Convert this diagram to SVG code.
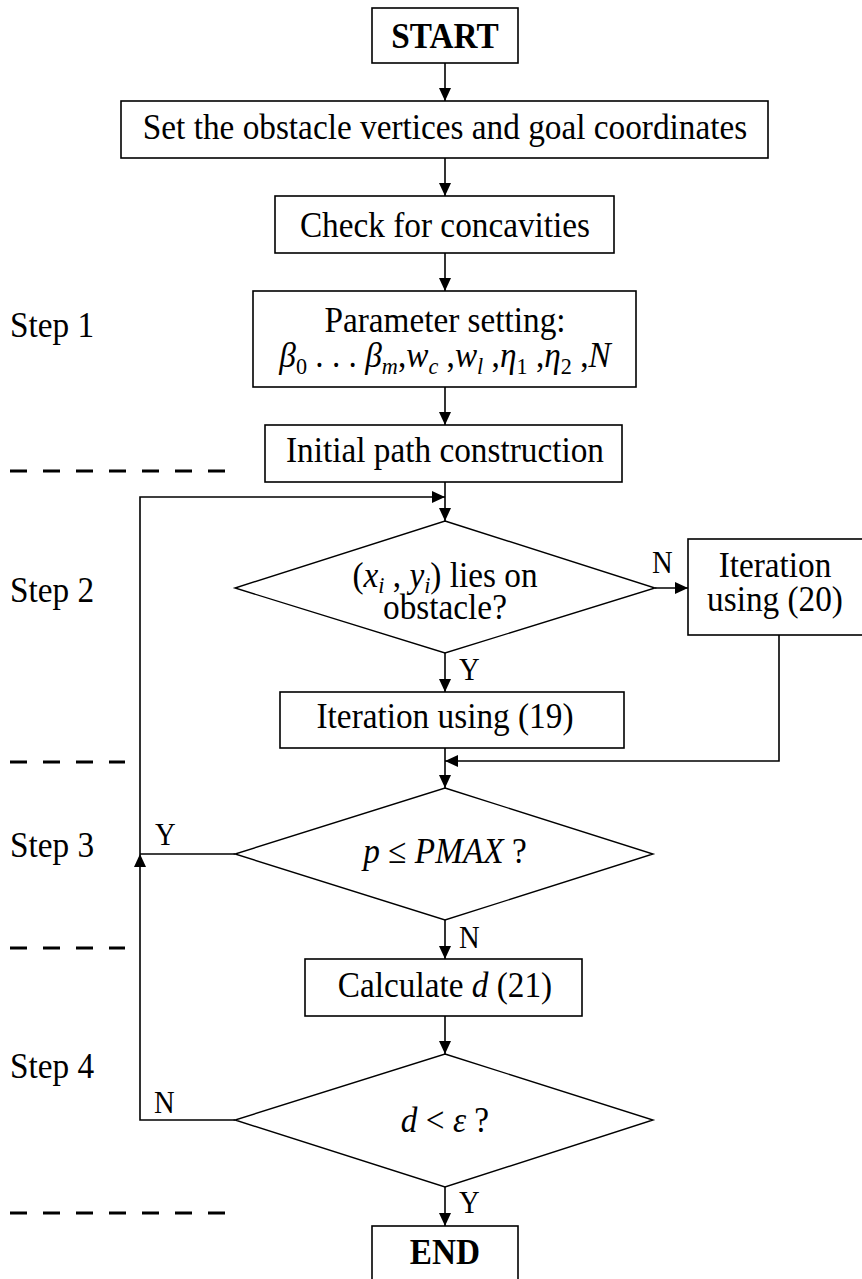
<svg xmlns="http://www.w3.org/2000/svg" width="862" height="1279" viewBox="0 0 862 1279" font-family="'Liberation Serif', Tinos, 'Times New Roman', Times, serif">
<defs>
<marker id="ah" markerUnits="userSpaceOnUse" markerWidth="14" markerHeight="12" refX="13" refY="6" orient="auto">
<path d="M0,0 L13,6 L0,12 Z" fill="#000"/>
</marker>
<style>
.box{fill:#fff;stroke:#000;stroke-width:1.6}
.dia{fill:#fff;stroke:#000;stroke-width:1.4}
text{font-family:'Liberation Serif', Tinos, 'Times New Roman', Times, serif;fill:#000}
.t{font-size:36px;text-anchor:middle}
.tb{font-size:36px;font-weight:bold;text-anchor:middle}
.st{font-size:36px}
.lab{font-size:31px}
.i{font-style:italic}
.sub{font-size:24px}
.c{fill:none;stroke:#000;stroke-width:1.6}
.dash{fill:none;stroke:#000;stroke-width:3;stroke-dasharray:17 16}
</style>
</defs>
<rect width="862" height="1279" fill="#fff"/>

<g id="steps">
<text class="st" x="10.81" y="337" transform="scale(0.925,1)">Step 1</text>
<text class="st" x="10.81" y="602" transform="scale(0.925,1)">Step 2</text>
<text class="st" x="10.81" y="857" transform="scale(0.925,1)">Step 3</text>
<text class="st" x="10.81" y="1078" transform="scale(0.925,1)">Step 4</text>
<line class="dash" x1="10" y1="471" x2="225" y2="471"/>
<line class="dash" x1="10" y1="762" x2="125" y2="762"/>
<line class="dash" x1="10" y1="948" x2="125" y2="948"/>
<line class="dash" x1="10" y1="1213" x2="225" y2="1213"/>
</g>

<g id="connectors">
<line class="c" x1="445" y1="63" x2="445" y2="101" marker-end="url(#ah)"/>
<line class="c" x1="445" y1="158" x2="445" y2="196" marker-end="url(#ah)"/>
<line class="c" x1="445" y1="253" x2="445" y2="291" marker-end="url(#ah)"/>
<line class="c" x1="445" y1="387" x2="445" y2="425" marker-end="url(#ah)"/>
<line class="c" x1="445" y1="482" x2="445" y2="521" marker-end="url(#ah)"/>
<line class="c" x1="655" y1="588" x2="688" y2="588" marker-end="url(#ah)"/>
<line class="c" x1="445" y1="653" x2="445" y2="692" marker-end="url(#ah)"/>
<polyline class="c" points="779,635 779,761 445,761" marker-end="url(#ah)"/>
<line class="c" x1="445" y1="748" x2="445" y2="788" marker-end="url(#ah)"/>
<line class="c" x1="445" y1="920" x2="445" y2="959" marker-end="url(#ah)"/>
<line class="c" x1="445" y1="1016" x2="445" y2="1054" marker-end="url(#ah)"/>
<line class="c" x1="445" y1="1187" x2="445" y2="1226" marker-end="url(#ah)"/>
<line class="c" x1="235" y1="854" x2="140" y2="854"/>
<polyline class="c" points="235,1120 140,1120 140,854" marker-end="url(#ah)"/>
<polyline class="c" points="140,854 140,497 445,497" stroke-width="2.4" marker-end="url(#ah)"/>
<text class="lab" x="704.86" y="573" transform="scale(0.925,1)">N</text>
<text class="lab" x="496.22" y="680" transform="scale(0.925,1)">Y</text>
<text class="lab" x="167.57" y="845" transform="scale(0.925,1)">Y</text>
<text class="lab" x="496.22" y="948" transform="scale(0.925,1)">N</text>
<text class="lab" x="166.49" y="1113" transform="scale(0.925,1)">N</text>
<text class="lab" x="496.22" y="1213" transform="scale(0.925,1)">Y</text>
</g>

<g id="start">
<rect class="box" x="372" y="8" width="146" height="55"/>
<text class="tb" x="481.08" y="48" transform="scale(0.925,1)">START</text>
</g>

<g id="set">
<rect class="box" x="121" y="101" width="647" height="57"/>
<text class="t" x="481.08" y="139" transform="scale(0.925,1)">Set the obstacle vertices and goal coordinates</text>
</g>

<g id="check">
<rect class="box" x="275" y="196" width="339" height="57"/>
<text class="t" x="481.08" y="237" transform="scale(0.925,1)">Check for concavities</text>
</g>

<g id="param">
<rect class="box" x="253" y="291" width="383" height="96"/>
<text class="t" x="481.08" y="332" transform="scale(0.925,1)">Parameter setting:</text>
<text class="t" x="481.08" y="367" transform="scale(0.925,1)"><tspan class="i">β</tspan><tspan class="sub" dy="7">0</tspan><tspan dy="-7"> . . . </tspan><tspan class="i">β</tspan><tspan class="i sub" dy="7">m</tspan><tspan dy="-7">,</tspan><tspan class="i">w</tspan><tspan class="i sub" dy="7">c</tspan><tspan dy="-7"> ,</tspan><tspan class="i">w</tspan><tspan class="i sub" dy="7">l</tspan><tspan dy="-7"> ,</tspan><tspan class="i">η</tspan><tspan class="sub" dy="7">1</tspan><tspan dy="-7"> ,</tspan><tspan class="i">η</tspan><tspan class="sub" dy="7">2</tspan><tspan dy="-7"> ,</tspan><tspan class="i">N</tspan></text>
</g>

<g id="init">
<rect class="box" x="265" y="425" width="357" height="57"/>
<text class="t" x="481.08" y="462" transform="scale(0.925,1)">Initial path construction</text>
</g>

<g id="dec1">
<polygon class="dia" points="445,521 655,588 445,653 235,588"/>
<text class="t" x="481.08" y="587" transform="scale(0.925,1)">(<tspan class="i">x</tspan><tspan class="i sub" dy="6">i</tspan><tspan dy="-6"> , </tspan><tspan class="i">y</tspan><tspan class="i sub" dy="6">i</tspan><tspan dy="-6">) lies on</tspan></text>
<text class="t" x="481.08" y="619" transform="scale(0.925,1)">obstacle?</text>
</g>

<g id="iter20">
<rect class="box" x="688" y="539" width="176" height="96"/>
<text class="t" x="837.84" y="577" transform="scale(0.925,1)">Iteration</text>
<text class="t" x="837.84" y="611" transform="scale(0.925,1)">using (20)</text>
</g>

<g id="iter19">
<rect class="box" x="280" y="692" width="344" height="56"/>
<text class="t" x="481.08" y="728" transform="scale(0.925,1)">Iteration using (19)</text>
</g>

<g id="dec2">
<polygon class="dia" points="445,788 653,854 445,920 235,854"/>
<text class="t" x="481.08" y="863" transform="scale(0.925,1)"><tspan class="i">p</tspan> ≤ <tspan class="i">PMAX</tspan> ?</text>
</g>

<g id="calc">
<rect class="box" x="305" y="959" width="277" height="57"/>
<text class="t" x="481.08" y="997" transform="scale(0.925,1)">Calculate <tspan class="i">d</tspan> (21)</text>
</g>

<g id="dec3">
<polygon class="dia" points="445,1054 653,1120 445,1187 235,1120"/>
<text class="t" x="481.08" y="1132" transform="scale(0.925,1)"><tspan class="i">d</tspan> &lt; <tspan class="i">ε</tspan> ?</text>
</g>

<g id="end">
<rect class="box" x="372" y="1226" width="146" height="60"/>
<text class="tb" x="481.08" y="1264" transform="scale(0.925,1)">END</text>
</g>
</svg>
